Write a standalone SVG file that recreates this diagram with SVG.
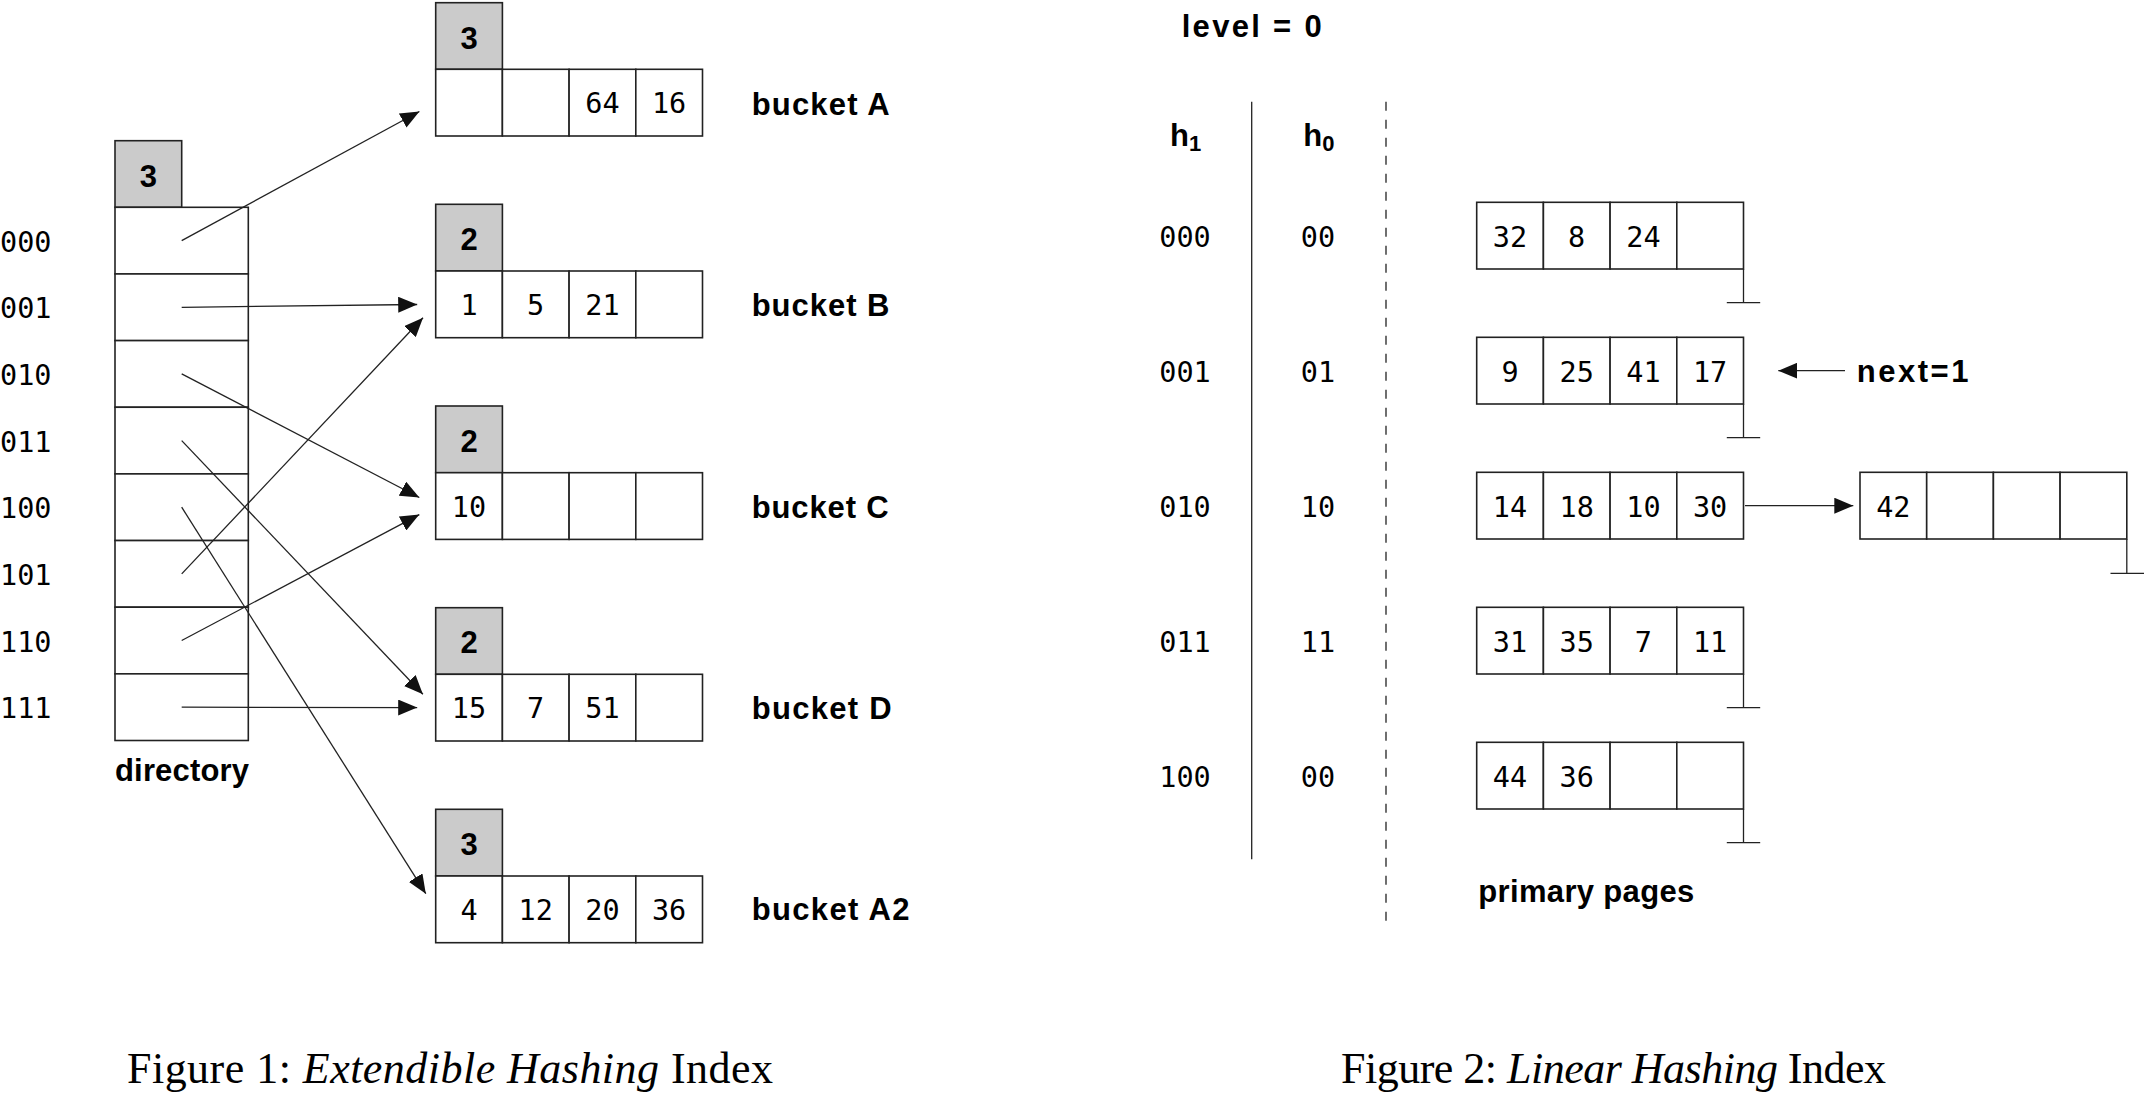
<svg xmlns="http://www.w3.org/2000/svg" width="2145" height="1097" viewBox="0 0 2145 1097">
<style>
.bg{fill:#fff}
.box{fill:#fff;stroke:#222;stroke-width:1.6}
.hdr{fill:#cbcbcb;stroke:#222;stroke-width:1.6}
.ln{stroke:#222;stroke-width:1.3;fill:none}
.dash{stroke:#222;stroke-width:1.3;fill:none;stroke-dasharray:9 9}
.mono{font-family:"DejaVu Sans Mono","Liberation Mono",monospace;font-size:28.5px;fill:#000;text-anchor:middle}
.lbl{font-family:"DejaVu Sans Mono","Liberation Mono",monospace;font-size:28.5px;fill:#000}
.bold{font-family:"Liberation Sans",Arial,sans-serif;font-weight:bold;font-size:31px;fill:#000}
.hd{font-family:"Liberation Sans",Arial,sans-serif;font-weight:bold;font-size:31px;fill:#000;text-anchor:middle}
.cap{font-family:"Liberation Serif","Times New Roman",serif;font-size:44px;fill:#000}
</style>
<defs>
<marker id="ah" markerUnits="userSpaceOnUse" markerWidth="20" markerHeight="16" refX="19" refY="8" orient="auto">
<path d="M0,0 L19,8 L0,16 Z" fill="#111"/>
</marker>
</defs>
<rect class="bg" x="0" y="0" width="2145" height="1097"/>

<!-- ===== Figure 1 ===== -->
<g id="directory">
<rect class="hdr" x="115" y="140.7" width="66.7" height="66.6"/>
<text class="hd" x="148.3" y="186.5">3</text>
<rect class="box" x="115" y="207.3" width="133.3" height="66.65"/>
<rect class="box" x="115" y="273.95" width="133.3" height="66.65"/>
<rect class="box" x="115" y="340.6" width="133.3" height="66.65"/>
<rect class="box" x="115" y="407.25" width="133.3" height="66.65"/>
<rect class="box" x="115" y="473.9" width="133.3" height="66.65"/>
<rect class="box" x="115" y="540.55" width="133.3" height="66.65"/>
<rect class="box" x="115" y="607.2" width="133.3" height="66.65"/>
<rect class="box" x="115" y="673.85" width="133.3" height="66.65"/>
<text class="lbl" x="0" y="251.7">000</text>
<text class="lbl" x="0" y="318.3">001</text>
<text class="lbl" x="0" y="385">010</text>
<text class="lbl" x="0" y="451.7">011</text>
<text class="lbl" x="0" y="518.3">100</text>
<text class="lbl" x="0" y="585">101</text>
<text class="lbl" x="0" y="651.7">110</text>
<text class="lbl" x="0" y="718.3">111</text>
<text class="bold" x="115" y="780.7" textLength="134" lengthAdjust="spacing">directory</text>
</g>

<g id="bucketA">
<rect class="hdr" x="435.7" y="2.7" width="66.7" height="66.6"/>
<text class="hd" x="469" y="48.5">3</text>
<rect class="box" x="435.7" y="69.3" width="66.7" height="66.7"/>
<rect class="box" x="502.4" y="69.3" width="66.7" height="66.7"/>
<rect class="box" x="569.1" y="69.3" width="66.7" height="66.7"/>
<rect class="box" x="635.8" y="69.3" width="66.7" height="66.7"/>
<text class="mono" x="602.4" y="113.3">64</text>
<text class="mono" x="669.1" y="113.3">16</text>
<text class="bold" x="751.7" y="114.7" textLength="138" lengthAdjust="spacing">bucket A</text>
</g>

<g id="bucketB">
<rect class="hdr" x="435.7" y="204.3" width="66.7" height="66.7"/>
<text class="hd" x="469" y="250">2</text>
<rect class="box" x="435.7" y="271" width="66.7" height="66.7"/>
<rect class="box" x="502.4" y="271" width="66.7" height="66.7"/>
<rect class="box" x="569.1" y="271" width="66.7" height="66.7"/>
<rect class="box" x="635.8" y="271" width="66.7" height="66.7"/>
<text class="mono" x="469" y="315">1</text>
<text class="mono" x="535.7" y="315">5</text>
<text class="mono" x="602.4" y="315">21</text>
<text class="bold" x="751.7" y="315.5" textLength="137.7" lengthAdjust="spacing">bucket B</text>
</g>

<g id="bucketC">
<rect class="hdr" x="435.7" y="406" width="66.7" height="66.7"/>
<text class="hd" x="469" y="451.7">2</text>
<rect class="box" x="435.7" y="472.7" width="66.7" height="66.7"/>
<rect class="box" x="502.4" y="472.7" width="66.7" height="66.7"/>
<rect class="box" x="569.1" y="472.7" width="66.7" height="66.7"/>
<rect class="box" x="635.8" y="472.7" width="66.7" height="66.7"/>
<text class="mono" x="469" y="516.7">10</text>
<text class="bold" x="751.7" y="517.5" textLength="137" lengthAdjust="spacing">bucket C</text>
</g>

<g id="bucketD">
<rect class="hdr" x="435.7" y="607.7" width="66.7" height="66.6"/>
<text class="hd" x="469" y="653.4">2</text>
<rect class="box" x="435.7" y="674.3" width="66.7" height="66.7"/>
<rect class="box" x="502.4" y="674.3" width="66.7" height="66.7"/>
<rect class="box" x="569.1" y="674.3" width="66.7" height="66.7"/>
<rect class="box" x="635.8" y="674.3" width="66.7" height="66.7"/>
<text class="mono" x="469" y="718.3">15</text>
<text class="mono" x="535.7" y="718.3">7</text>
<text class="mono" x="602.4" y="718.3">51</text>
<text class="bold" x="751.7" y="719.3" textLength="140" lengthAdjust="spacing">bucket D</text>
</g>

<g id="bucketA2">
<rect class="hdr" x="435.7" y="809.3" width="66.7" height="66.7"/>
<text class="hd" x="469" y="855">3</text>
<rect class="box" x="435.7" y="876" width="66.7" height="66.7"/>
<rect class="box" x="502.4" y="876" width="66.7" height="66.7"/>
<rect class="box" x="569.1" y="876" width="66.7" height="66.7"/>
<rect class="box" x="635.8" y="876" width="66.7" height="66.7"/>
<text class="mono" x="469" y="920">4</text>
<text class="mono" x="535.7" y="920">12</text>
<text class="mono" x="602.4" y="920">20</text>
<text class="mono" x="669.1" y="920">36</text>
<text class="bold" x="751.7" y="920" textLength="157.7" lengthAdjust="spacing">bucket A2</text>
</g>

<g id="connectors-fig1">
<line class="ln" marker-end="url(#ah)" x1="181.7" y1="240.6" x2="419.4" y2="111.5"/>
<line class="ln" marker-end="url(#ah)" x1="181.7" y1="307.3" x2="417.2" y2="304.5"/>
<line class="ln" marker-end="url(#ah)" x1="181.7" y1="373.9" x2="419.3" y2="497.5"/>
<line class="ln" marker-end="url(#ah)" x1="181.7" y1="440.6" x2="422.9" y2="694.3"/>
<line class="ln" marker-end="url(#ah)" x1="181.7" y1="507.2" x2="425.8" y2="893.7"/>
<line class="ln" marker-end="url(#ah)" x1="181.7" y1="573.9" x2="423" y2="317.8"/>
<line class="ln" marker-end="url(#ah)" x1="181.7" y1="640.5" x2="419.3" y2="514.6"/>
<line class="ln" marker-end="url(#ah)" x1="181.7" y1="707.2" x2="417.2" y2="707.6"/>
</g>

<text id="caption1" class="cap" x="127" y="1083" textLength="646" lengthAdjust="spacing">Figure 1: <tspan font-style="italic">Extendible Hashing</tspan> Index</text>

<!-- ===== Figure 2 ===== -->
<g id="header-fig2">
<text class="bold" x="1181.7" y="36.7" textLength="140" lengthAdjust="spacing">level = 0</text>
<text class="bold" x="1170" y="145.7">h<tspan font-size="22" dy="5">1</tspan></text>
<text class="bold" x="1303.3" y="145.7">h<tspan font-size="22" dy="5">0</tspan></text>
<line class="ln" x1="1251.7" y1="101.7" x2="1251.7" y2="859.3"/>
<line class="dash" x1="1386" y1="101.7" x2="1386" y2="926.7"/>
</g>

<g id="hash-labels">
<text class="mono" x="1185" y="246.7">000</text>
<text class="mono" x="1318" y="246.7">00</text>
<text class="mono" x="1185" y="381.7">001</text>
<text class="mono" x="1318" y="381.7">01</text>
<text class="mono" x="1185" y="516.7">010</text>
<text class="mono" x="1318" y="516.7">10</text>
<text class="mono" x="1185" y="651.7">011</text>
<text class="mono" x="1318" y="651.7">11</text>
<text class="mono" x="1185" y="786.7">100</text>
<text class="mono" x="1318" y="786.7">00</text>
</g>

<g id="page0">
<rect class="box" x="1476.7" y="202.3" width="66.7" height="66.7"/>
<rect class="box" x="1543.4" y="202.3" width="66.7" height="66.7"/>
<rect class="box" x="1610.1" y="202.3" width="66.7" height="66.7"/>
<rect class="box" x="1676.8" y="202.3" width="66.7" height="66.7"/>
<text class="mono" x="1510" y="246.7">32</text>
<text class="mono" x="1576.7" y="246.7">8</text>
<text class="mono" x="1643.4" y="246.7">24</text>
<path class="ln" d="M1743.5,269 V302.7 M1726.8,302.7 H1760.2"/>
</g>

<g id="page1">
<rect class="box" x="1476.7" y="337.3" width="66.7" height="66.7"/>
<rect class="box" x="1543.4" y="337.3" width="66.7" height="66.7"/>
<rect class="box" x="1610.1" y="337.3" width="66.7" height="66.7"/>
<rect class="box" x="1676.8" y="337.3" width="66.7" height="66.7"/>
<text class="mono" x="1510" y="381.7">9</text>
<text class="mono" x="1576.7" y="381.7">25</text>
<text class="mono" x="1643.4" y="381.7">41</text>
<text class="mono" x="1710.1" y="381.7">17</text>
<path class="ln" d="M1743.5,404 V437.7 M1726.8,437.7 H1760.2"/>
</g>

<g id="page2">
<rect class="box" x="1476.7" y="472.3" width="66.7" height="66.7"/>
<rect class="box" x="1543.4" y="472.3" width="66.7" height="66.7"/>
<rect class="box" x="1610.1" y="472.3" width="66.7" height="66.7"/>
<rect class="box" x="1676.8" y="472.3" width="66.7" height="66.7"/>
<text class="mono" x="1510" y="516.7">14</text>
<text class="mono" x="1576.7" y="516.7">18</text>
<text class="mono" x="1643.4" y="516.7">10</text>
<text class="mono" x="1710.1" y="516.7">30</text>
</g>

<g id="overflow2">
<rect class="box" x="1860" y="472.3" width="66.7" height="66.7"/>
<rect class="box" x="1926.7" y="472.3" width="66.7" height="66.7"/>
<rect class="box" x="1993.4" y="472.3" width="66.7" height="66.7"/>
<rect class="box" x="2060.1" y="472.3" width="66.7" height="66.7"/>
<text class="mono" x="1893.3" y="516.7">42</text>
<path class="ln" d="M2126.8,539 V573.3 M2110.5,573.3 H2144"/>
</g>

<g id="page3">
<rect class="box" x="1476.7" y="607.3" width="66.7" height="66.7"/>
<rect class="box" x="1543.4" y="607.3" width="66.7" height="66.7"/>
<rect class="box" x="1610.1" y="607.3" width="66.7" height="66.7"/>
<rect class="box" x="1676.8" y="607.3" width="66.7" height="66.7"/>
<text class="mono" x="1510" y="651.7">31</text>
<text class="mono" x="1576.7" y="651.7">35</text>
<text class="mono" x="1643.4" y="651.7">7</text>
<text class="mono" x="1710.1" y="651.7">11</text>
<path class="ln" d="M1743.5,674 V707.7 M1726.8,707.7 H1760.2"/>
</g>

<g id="page4">
<rect class="box" x="1476.7" y="742.3" width="66.7" height="66.7"/>
<rect class="box" x="1543.4" y="742.3" width="66.7" height="66.7"/>
<rect class="box" x="1610.1" y="742.3" width="66.7" height="66.7"/>
<rect class="box" x="1676.8" y="742.3" width="66.7" height="66.7"/>
<text class="mono" x="1510" y="786.7">44</text>
<text class="mono" x="1576.7" y="786.7">36</text>
<path class="ln" d="M1743.5,809 V842.7 M1726.8,842.7 H1760.2"/>
</g>

<g id="next-pointer">
<text class="bold" x="1856.7" y="381.7" textLength="111.7" lengthAdjust="spacing">next=1</text>
</g>

<text id="primary-pages" class="bold" x="1478.3" y="901.7" textLength="216" lengthAdjust="spacing">primary pages</text>

<g id="connectors-fig2">
<line class="ln" marker-end="url(#ah)" x1="1845" y1="370.7" x2="1778.3" y2="370.7"/>
<line class="ln" marker-end="url(#ah)" x1="1745" y1="505.7" x2="1853.3" y2="505.7"/>
</g>

<text id="caption2" class="cap" x="1341" y="1083" textLength="545" lengthAdjust="spacing">Figure 2: <tspan font-style="italic">Linear Hashing</tspan> Index</text>
</svg>
